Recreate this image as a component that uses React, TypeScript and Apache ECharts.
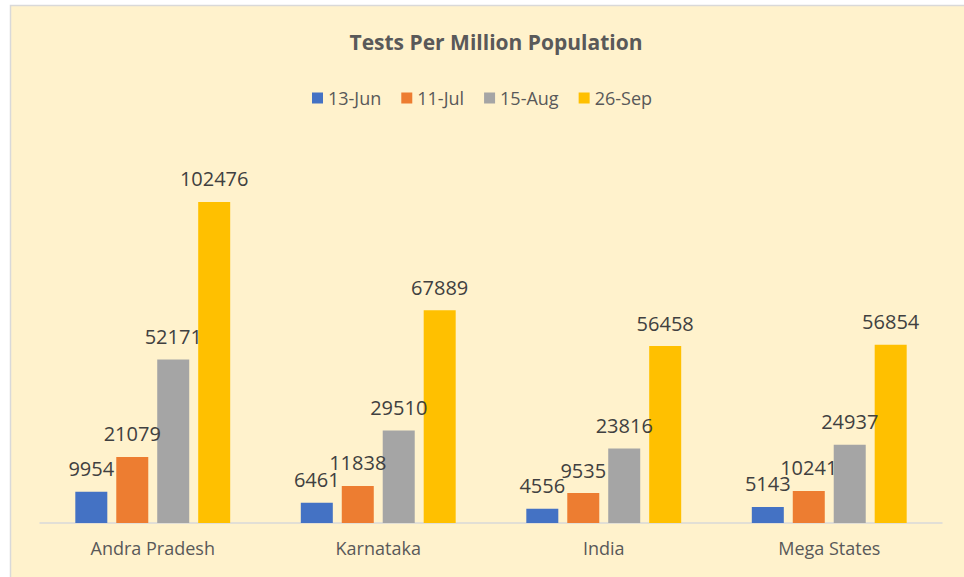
import React, { useEffect, useRef } from "react";
import * as echarts from "echarts";

const categories = ["Andra Pradesh", "Karnataka", "India", "Mega States"];
const seriesNames = ["13-Jun", "11-Jul", "15-Aug", "26-Sep"];
const jun13 = [9954, 6461, 4556, 5143];
const jul11 = [21079, 11838, 9535, 10241];
const aug15 = [52171, 29510, 23816, 24937];
const sep26 = [102476, 67889, 56458, 56854];
const colors = ["#4472C4", "#ED7D31", "#A5A5A5", "#FFC000"];

const FONT = "'Open Sans', 'Noto Sans', sans-serif";

export default function App() {
  const ref = useRef<HTMLDivElement>(null);
  useEffect(() => {
    if (!ref.current) return;
    const chart = echarts.init(ref.current, null, { renderer: "svg" });
    const values = [jun13, jul11, aug15, sep26];
    chart.setOption({
      animation: false,
      backgroundColor: "#ffffff",
      graphic: [
        {
          type: "rect",
          shape: { x: 10.5, y: 5.5, width: 970, height: 600 },
          style: { fill: "#FFF2CC", stroke: "#D9D9D9", lineWidth: 1.5 },
          z: -10,
          silent: true,
        },
      ],
      title: {
        text: "Tests Per Million Population",
        left: 491,
        textAlign: "center",
        top: 26,
        textStyle: {
          fontFamily: FONT,
          fontSize: 21,
          fontWeight: "bold",
          color: "#595959",
        },
      },
      legend: {
        data: seriesNames,
        top: 84,
        left: "center",
        itemWidth: 11,
        itemHeight: 11,
        itemGap: 20,
        icon: "rect",
        textStyle: { fontFamily: FONT, fontSize: 18, color: "#595959" },
      },
      grid: { left: 40, right: 22, top: 147, bottom: 54, containLabel: false },
      xAxis: {
        type: "category",
        data: categories,
        axisLine: { lineStyle: { color: "#D9D9D9", width: 1.5 } },
        axisTick: { show: false },
        axisLabel: {
          fontFamily: FONT,
          fontSize: 18,
          color: "#595959",
          margin: 16,
        },
      },
      yAxis: {
        type: "value",
        min: 0,
        max: 120000,
        show: false,
        splitLine: { show: false },
      },
      series: seriesNames.map((name, i) => ({
        name,
        type: "bar",
        data: values[i],
        barWidth: 32,
        barGap: "28%",
        itemStyle: { color: colors[i] },
        label: {
          show: true,
          position: "top",
          distance: 13,
          fontFamily: FONT,
          fontSize: 20,
          color: "#404040",
        },
      })),
    });
    return () => chart.dispose();
  }, []);
  return (
    <div
      ref={ref}
      style={{ position: "fixed", left: 0, top: 0, width: 964, height: 577 }}
    />
  );
}
